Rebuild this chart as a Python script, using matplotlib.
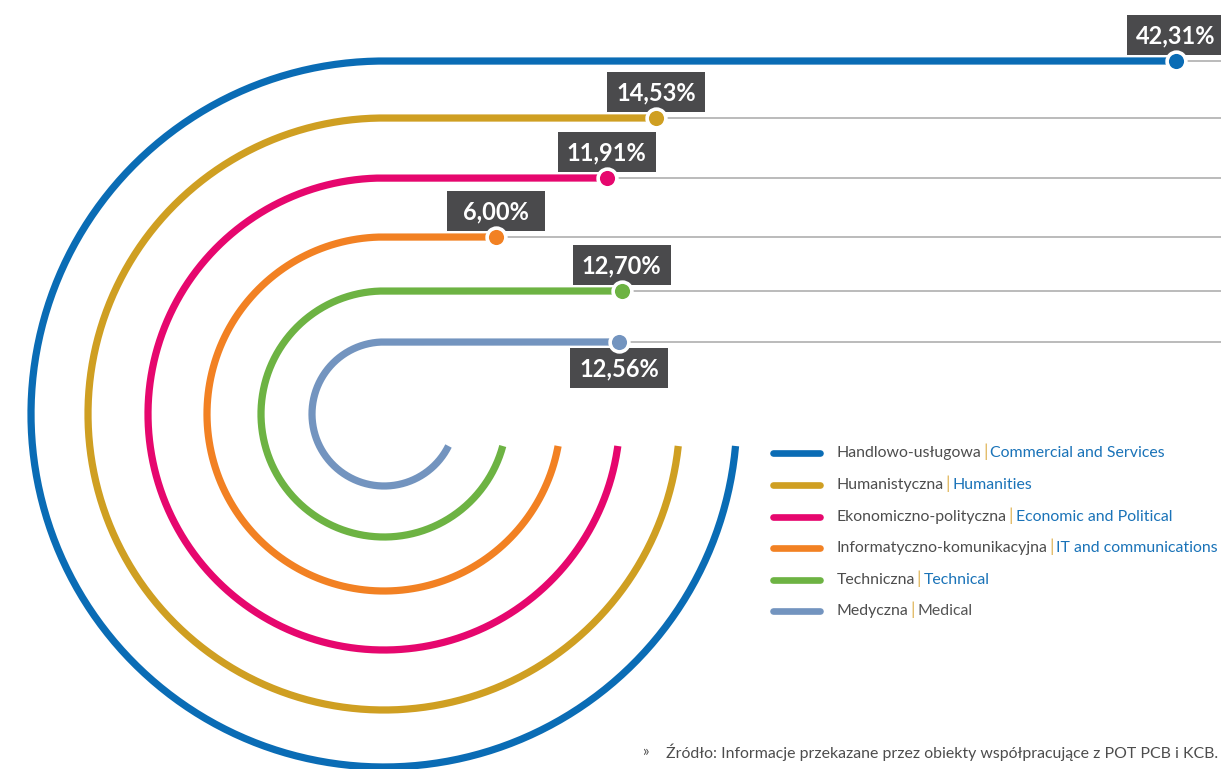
import numpy as np
import matplotlib
matplotlib.use("Agg")
import matplotlib.pyplot as plt
from matplotlib.patches import Rectangle

plt.rcParams["font.family"] = ["Lato", "DejaVu Sans"]

# data
names_pl = ["Handlowo-usługowa", "Humanistyczna", "Ekonomiczno-polityczna",
            "Informatyczno-komunikacyjna", "Techniczna", "Medyczna"]
names_en = ["Commercial and Services", "Humanities", "Economic and Political",
            "IT and communications", "Technical", "Medical"]
values = [42.31, 14.53, 11.91, 6.00, 12.70, 12.56]
labels = ["42,31%", "14,53%", "11,91%", "6,00%", "12,70%", "12,56%"]
colors = ["#0a6cb5", "#cf9f22", "#e6076e", "#f28123", "#6db343", "#7394bf"]
en_colors = ["#1a73b8"] * 5 + ["#555555"]
source = "Źródło: Informacje przekazane przez obiekty współpracujące z POT PCB i KCB."

# layout (pixels)
W, H = 1221, 769
CX, CY = 384, 414
radii = [353, 296, 236, 177, 123, 72]
Y_CUT = 446
PX_PER_PCT = 18.71
BOX = "#4a4a4c"
TXT = "#4d4d4d"

fig = plt.figure(figsize=(W / 100, H / 100), dpi=100)
ax = fig.add_axes([0, 0, 1, 1])
ax.set_xlim(0, W)
ax.set_ylim(H, 0)
ax.axis("off")

for i, (v, r, c, lab) in enumerate(zip(values, radii, colors, labels)):
    y = CY - r
    xd = CX + PX_PER_PCT * v
    # grey guide line to the right edge
    ax.plot([xd, W], [y, y], color="#a8a8a8", lw=1.1, zorder=1)
    # arc + horizontal bar
    t_end = 2 * np.pi - np.arcsin((Y_CUT - CY) / r)
    t = np.linspace(np.pi / 2, t_end, 300)
    xs = np.concatenate([[xd], CX + r * np.cos(t)])
    ys = np.concatenate([[y], CY - r * np.sin(t)])
    ax.plot(xs, ys, color=c, lw=5.2, solid_capstyle="butt", solid_joinstyle="round", zorder=2)
    ax.plot(xd, y, "o", ms=13.5, mfc=c, mec="white", mew=2.6, zorder=4)
    # value label box
    bw, bh = 98, 40
    if i == len(values) - 1:
        by = y + 6
    else:
        by = y - 6 - bh
    ax.add_patch(Rectangle((xd - bw / 2, by), bw, bh, fc=BOX, ec="none", zorder=3))
    ax.text(xd, by + bh / 2 + 1, lab, ha="center", va="center", color="white",
            fontsize=17, fontweight="bold", zorder=5)

# legend
fig.canvas.draw()
rend = fig.canvas.get_renderer()
leg_y = [453, 485, 517, 548, 580, 611]
for pl, en, c, ec, ly in zip(names_pl, names_en, colors, en_colors, leg_y):
    ax.plot([773, 820], [ly, ly], color=c, lw=4.8, solid_capstyle="round")
    x = 837
    t1 = ax.text(x, ly, pl, ha="left", va="center", fontsize=11.4, color=TXT)
    x += t1.get_window_extent(rend).width + 1.5
    t2 = ax.text(x, ly - 1, "|", ha="left", va="center", fontsize=12.5, color="#e0b55a")
    x += t2.get_window_extent(rend).width + 2.5
    ax.text(x, ly, en, ha="left", va="center", fontsize=11.4, color=ec)

# source note
ax.text(1218, 752, source, ha="right", va="center", fontsize=11.4, color=TXT)
ax.text(645, 752, "»", ha="center", va="center", fontsize=11, color=TXT)

fig.savefig("out.png", dpi=100, facecolor="white")
